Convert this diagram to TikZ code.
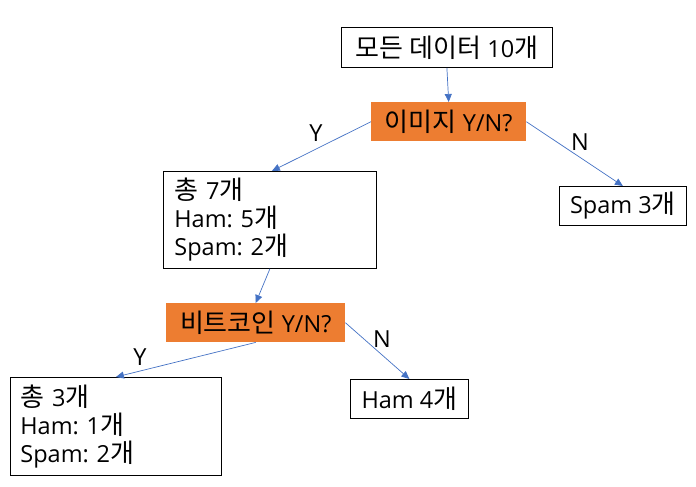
\documentclass[tikz,border=0pt]{standalone}
\usepackage{fontspec}
\setmainfont{Open Sans}
\newfontfamily\kr{Noto Sans CJK KR}
\usetikzlibrary{arrows.meta}
\definecolor{arrowblue}{HTML}{4472C4}
\definecolor{boxorange}{HTML}{ED7D31}
\frenchspacing
\tikzset{
  box/.style={draw=black, line width=0.8pt, fill=white, anchor=north west, inner sep=0pt, font=\fontsize{23.5}{28}\selectfont},
  qbox/.style={fill=boxorange, anchor=north west, inner sep=0pt, font=\fontsize{23.5}{28}\selectfont},
  conn/.style={draw=arrowblue, line width=0.7pt, -{Triangle[length=8pt,width=7pt]}},
  lbl/.style={font=\fontsize{23.5}{28}\selectfont, inner sep=0pt}
}
\newcommand{\K}[1]{{\kr\fontsize{26}{28}\selectfont #1}}
\begin{document}
\begin{tikzpicture}[x=1pt,y=-1pt]
\useasboundingbox (0,0) rectangle (696,487);
\node[box, minimum width=211pt, minimum height=40pt] (top) at (341,27) {\K{모든} \K{데이터} 10\K{개}};
\node[qbox, minimum width=155pt, minimum height=39pt] (img) at (371,102) {\K{이미지} Y/N?};
\node[box, minimum width=213pt, minimum height=97pt, text width=191pt, align=left] (t7) at (163,171) {\K{총} 7\K{개}\\Ham: 5\K{개}\\Spam: 2\K{개}};
\node[box, minimum width=127pt, minimum height=39pt] (s3) at (559,186) {Spam 3\K{개}};
\node[qbox, minimum width=179pt, minimum height=39pt] (btc) at (166,303) {\K{비트코인} Y/N?};
\node[box, minimum width=211pt, minimum height=98pt, text width=191pt, align=left] (t3) at (10,377) {\K{총} 3\K{개}\\Ham: 1\K{개}\\Spam: 2\K{개}};
\node[box, minimum width=118pt, minimum height=39pt] (h4) at (350,379) {Ham 4\K{개}};
\draw[conn] (top.south) -- (img.north);
\draw[conn] (img.west) -- ([xshift=2pt]t7.north);
\draw[conn] (img.east) -- (s3.north);
\draw[conn] (t7.south) -- (btc.north);
\draw[conn] (btc.south) -- (t3.north);
\draw[conn] (btc.east) -- (h4.north);
\node[lbl] (ly1) at (316,133) {Y};
\node[lbl] (ln1) at (580,142) {N};
\node[lbl] (ly2) at (140,357) {Y};
\node[lbl] (ln2) at (382,339) {N};
\end{tikzpicture}
\end{document}
